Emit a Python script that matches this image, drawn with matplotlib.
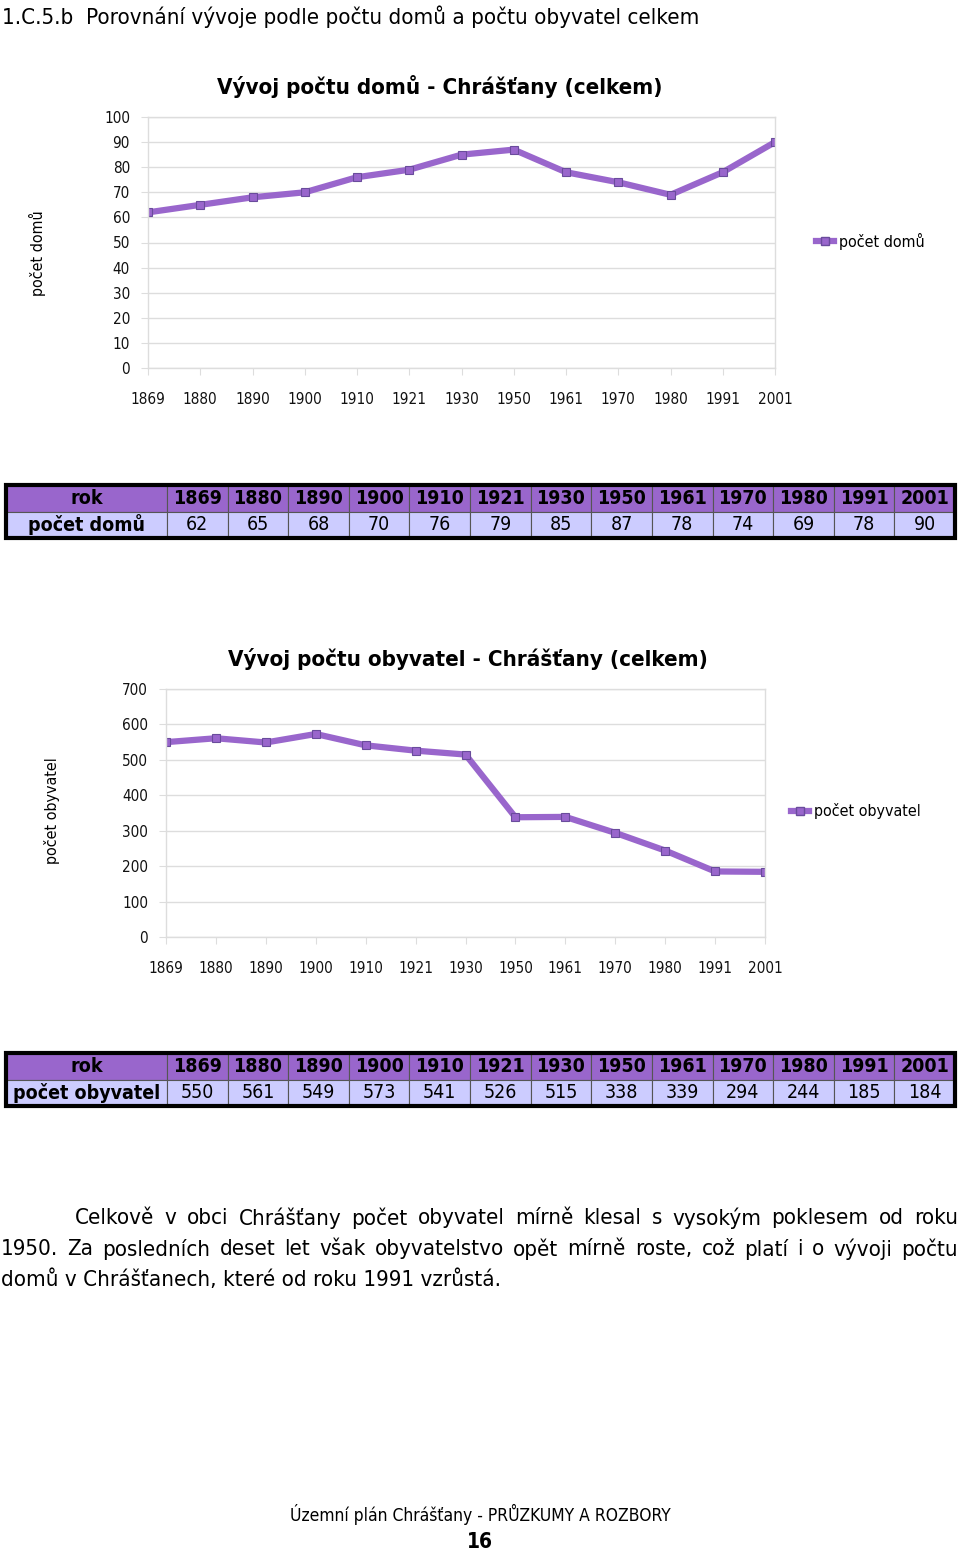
import matplotlib
matplotlib.use("Agg")
import matplotlib.pyplot as plt
from matplotlib.patches import Rectangle

plt.rcParams["font.family"] = ["DejaVu Sans"]
plt.rcParams["font.stretch"] = "condensed"

# data
years = ["1869", "1880", "1890", "1900", "1910", "1921", "1930",
         "1950", "1961", "1970", "1980", "1991", "2001"]
houses = [62, 65, 68, 70, 76, 79, 85, 87, 78, 74, 69, 78, 90]
people = [550, 561, 549, 573, 541, 526, 515, 338, 339, 294, 244, 185, 184]

W, H = 960, 1554
LINE = "#9966CC"
EDGE = "#6A4C9C"
HEAD = "#9966CC"
ROW = "#CCCCFF"
GRID = "#DDDDDD"

fig = plt.figure(figsize=(W / 100, H / 100), dpi=100)


def box(x0, y0, x1, y1):
    # pixel box (top-left origin) -> figure fraction
    return [x0 / W, 1 - y1 / H, (x1 - x0) / W, (y1 - y0) / H]


def line_chart(rect, values, ymax, ystep, title, title_xy, ylabel, ylabel_xy, leg_xy, legname):
    ax = fig.add_axes(box(*rect))
    x = list(range(len(values)))
    ax.plot(x, values, color=LINE, lw=4.5, marker="s", ms=6,
            mfc=LINE, mec=EDGE, mew=0.8, solid_joinstyle="round")
    ax.set_xlim(0, len(values) - 1)
    ax.set_ylim(0, ymax)
    ax.set_yticks(range(0, ymax + 1, ystep))
    ax.set_xticks(x)
    ax.set_xticklabels(years)
    ax.yaxis.grid(True, color=GRID, lw=1)
    ax.set_axisbelow(True)
    for s in ax.spines.values():
        s.set_color(GRID)
        s.set_linewidth(1)
    ax.tick_params(axis="both", colors=GRID, labelcolor="#111111", labelsize=11, length=5)
    ax.tick_params(axis="x", pad=12)
    ax.tick_params(axis="y", pad=8)
    fig.text(title_xy[0] / W, 1 - title_xy[1] / H, title, ha="center", va="center",
             fontsize=16, fontweight="bold")
    fig.text(ylabel_xy[0] / W, 1 - ylabel_xy[1] / H, ylabel, ha="center", va="center",
             rotation=90, fontsize=11.5)
    # legend sample: short line with a square marker in the middle
    lx, ly = leg_xy
    yy = 1 - ly / H
    fig.lines.append(plt.Line2D([lx / W, (lx + 9) / W, (lx + 18) / W], [yy, yy, yy],
                                color=LINE, lw=4.5, marker="s", ms=6, mfc=LINE, mec=EDGE,
                                markevery=[1], transform=fig.transFigure))
    fig.text((lx + 23) / W, yy, legname, ha="left", va="center", fontsize=11.5)
    return ax


line_chart((148, 117, 775, 368), houses, 100, 10,
           "Vývoj počtu domů - Chrášťany (celkem)", (440, 87),
           "počet domů", (37, 253), (816, 241), "počet domů")
line_chart((166, 689, 765, 937), people, 700, 100,
           "Vývoj počtu obyvatel - Chrášťany (celkem)", (468, 659),
           "počet obyvatel", (52, 811), (791, 811), "počet obyvatel")


def table(rect, label, values):
    ax = fig.add_axes(box(*rect))
    ax.set_axis_off()
    first = 161
    tw = rect[2] - rect[0]
    other = (tw - first) / len(years)
    widths = [first / tw] + [other / tw] * len(years)
    cells = [["rok"] + years, [label] + [str(v) for v in values]]
    colors = [[HEAD] * (len(years) + 1), [ROW] * (len(years) + 1)]
    t = ax.table(cellText=cells, cellColours=colors, colWidths=widths,
                 cellLoc="center", bbox=[0, 0, 1, 1])
    t.auto_set_font_size(False)
    for (r, c), cell in t.get_celld().items():
        cell.set_edgecolor("#555555")
        cell.set_linewidth(0.8)
        txt = cell.get_text()
        txt.set_fontsize(14)
        if r == 0 or c == 0:
            txt.set_fontweight("bold")
    ax.add_patch(Rectangle((0, 0), 1, 1, transform=ax.transAxes, fill=False,
                           ec="black", lw=3, zorder=10, clip_on=False))


table((6, 485, 955, 538), "počet domů", houses)
table((6, 1053, 955, 1106), "počet obyvatel", people)

# heading
fig.text(2 / W, 1 - 17 / H, "1.C.5.b  Porovnání vývoje podle počtu domů a počtu obyvatel celkem",
         ha="left", va="center", fontsize=16)

# justified paragraph
para = [
    ("Celkově v obci Chrášťany počet obyvatel mírně klesal s vysokým poklesem od roku", 75, 958, 1218, True),
    ("1950. Za posledních deset let však obyvatelstvo opět mírně roste, což platí i o vývoji počtu", 1, 958, 1249, True),
    ("domů v Chrášťanech, které od roku 1991 vzrůstá.", 1, 958, 1280, False),
]
fig.canvas.draw()
rend = fig.canvas.get_renderer()
for line, x0, x1, y, just in para:
    words = line.split(" ")
    if not just:
        fig.text(x0 / W, 1 - y / H, line, ha="left", va="center", fontsize=16)
        continue
    objs = [fig.text(0, 1 - y / H, w, ha="left", va="center", fontsize=16) for w in words]
    ws = [o.get_window_extent(rend).width for o in objs]
    gap = (x1 - x0 - sum(ws)) / (len(words) - 1)
    pos = x0
    for o, w in zip(objs, ws):
        o.set_x(pos / W)
        pos += w + gap

# footer
fig.text(480 / W, 1 - 1514 / H, "Územní plán Chrášťany - PRŮZKUMY A ROZBORY",
         ha="center", va="center", fontsize=12.5)
fig.text(480 / W, 1 - 1542 / H, "16", ha="center", va="center", fontsize=15, fontweight="bold")

fig.savefig("out.png", dpi=100, facecolor="white")
